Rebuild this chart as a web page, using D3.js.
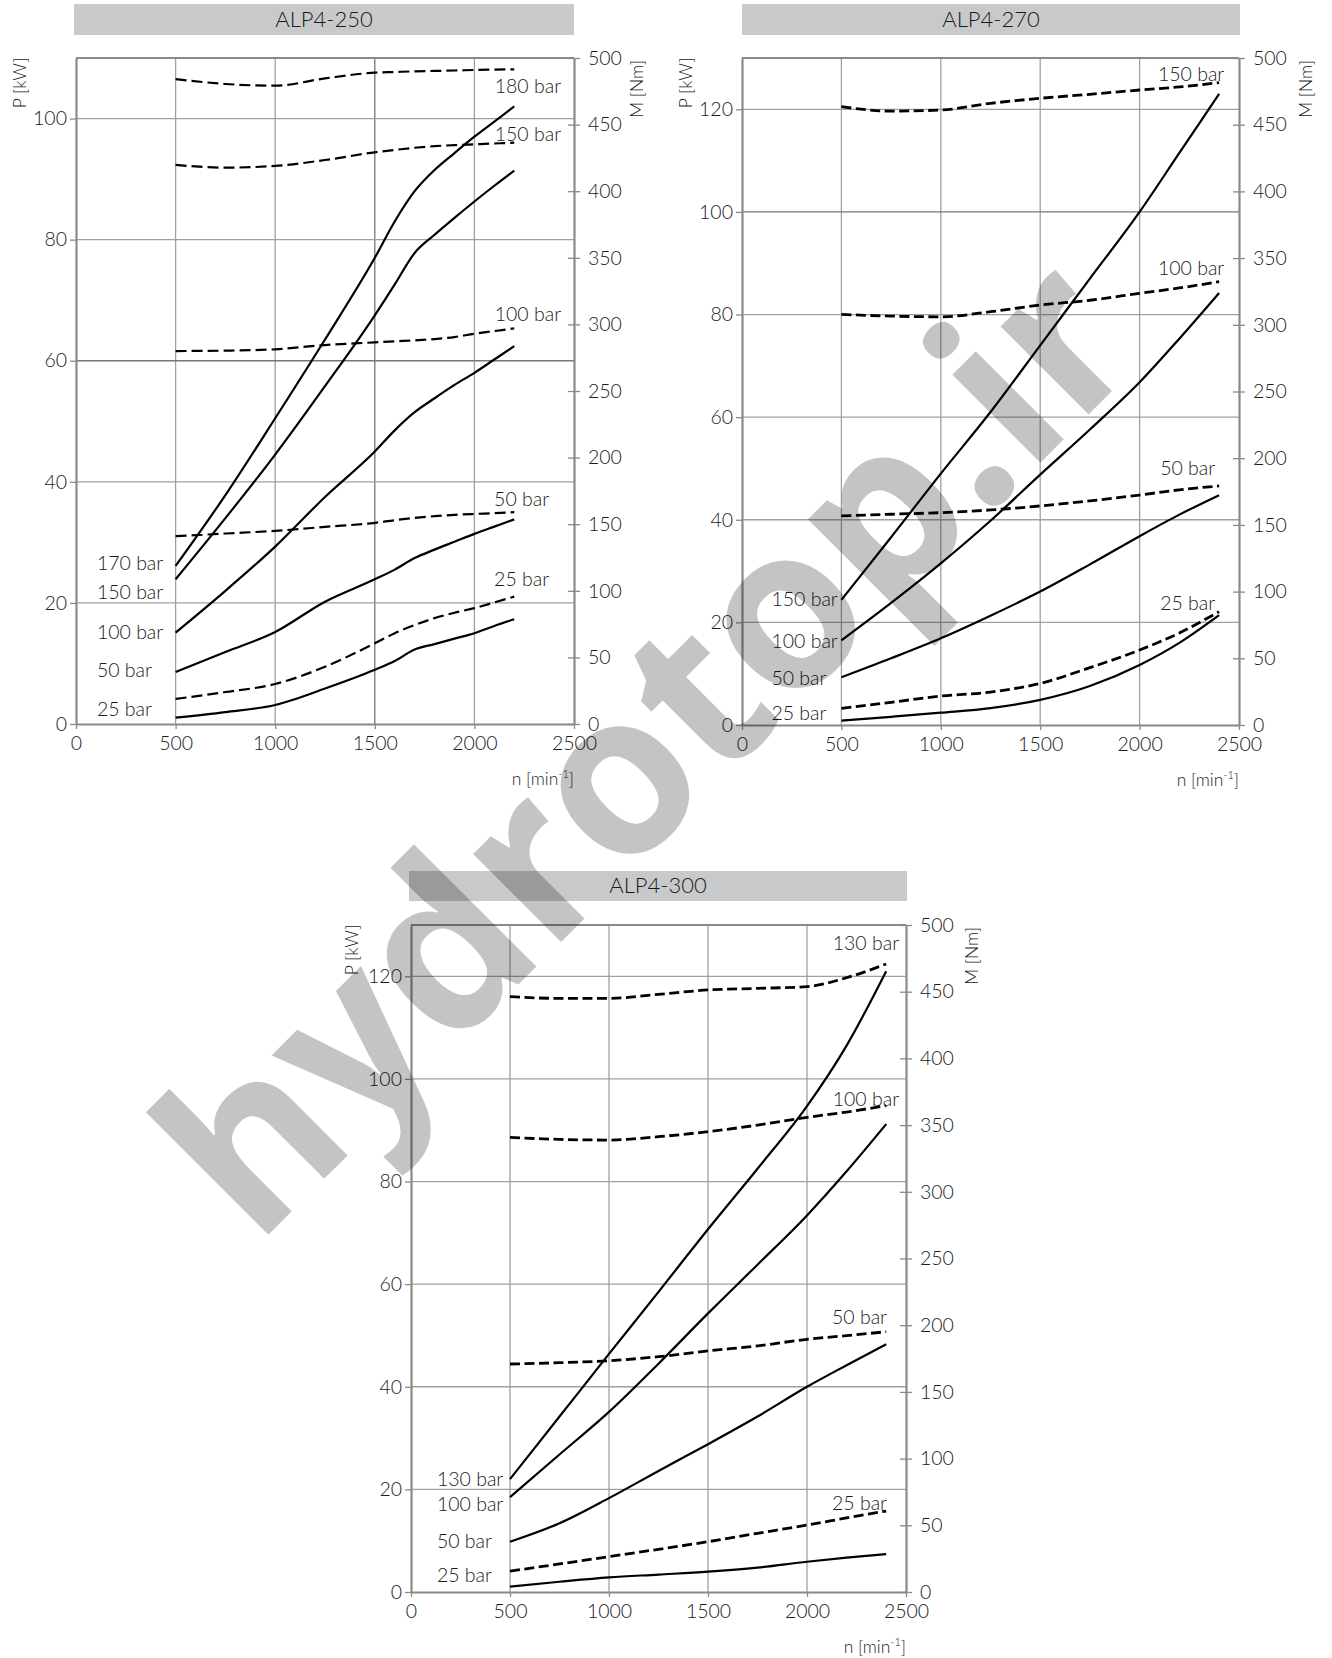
<!DOCTYPE html>
<html><head><meta charset="utf-8">
<script src="https://cdn.jsdelivr.net/npm/d3@7"></script>
<style>
body{margin:0;background:#fff}
text{font-family:Lato,"Open Sans",sans-serif;font-weight:300;fill:#1a1a1a}
</style>
</head><body>
<svg id="c" width="1332" height="1658"></svg>
<script>
// ---------------- DATA ----------------
const xTickLabels = [0, 500, 1000, 1500, 2000, 2500];
const mTickLabels = [0, 50, 100, 150, 200, 250, 300, 350, 400, 450, 500];
const pTicks250 = [0, 20, 40, 60, 80, 100];
const pTicks270 = [0, 20, 40, 60, 80, 100, 120];
const pTicks300 = [0, 20, 40, 60, 80, 100, 120];

// ALP4-250
const n250 = [500, 750, 1000, 1250, 1500, 1600, 1700, 1800, 1900, 2000, 2100, 2200];
const P250_180 = [26.1, 37.8, 50.5, 63.5, 77, 83, 88, 91.5, 94.3, 97, 99.5, 102];
const P250_150 = [23.9, 34, 44.5, 55.8, 67.5, 72.6, 77.8, 80.8, 83.6, 86.3, 88.9, 91.4];
const P250_100 = [15.1, 22, 29.3, 37.5, 45, 48.5, 51.5, 53.8, 56, 58, 60.2, 62.4];
const P250_50 = [8.6, 11.9, 15.2, 20.2, 23.9, 25.5, 27.4, 28.8, 30.1, 31.4, 32.6, 33.8];
const P250_25 = [1.04, 1.95, 3.14, 5.85, 8.95, 10.4, 12.3, 13.2, 14.1, 15.0, 16.2, 17.3];
const M250_180 = [484.2, 480.5, 479.2, 484.7, 489, 489.5, 490, 490.3, 490.6, 491, 491.3, 491.5];
const M250_150 = [419.7, 417.7, 419, 423.4, 429.2, 431, 432.6, 433.8, 434.6, 435.2, 435.8, 436.4];
const M250_100 = [280, 280.3, 281.3, 284.5, 286.5, 287.3, 288, 289, 290.5, 293, 295, 297];
const M250_50 = [141, 143, 145, 148, 151, 153, 154.7, 156, 157, 157.7, 158.3, 159];
const M250_25 = [18.8, 24, 30, 43, 60.6, 68.2, 74.3, 79.5, 83.5, 87, 91.3, 95.6];

// ALP4-270
const n270 = [500, 750, 1000, 1250, 1500, 1750, 2000, 2200, 2400];
const P270_150 = [24.4, 36.6, 49, 61, 74, 87, 100, 111.5, 123];
const P270_100 = [16.5, 23.8, 31.5, 39.8, 48.8, 57.6, 66.8, 75.3, 84.2];
const P270_50 = [9.3, 13, 16.9, 21.3, 26, 31.3, 36.8, 41, 44.8];
const P270_25 = [0.85, 1.6, 2.4, 3.3, 4.9, 7.6, 11.7, 16, 21.4];
const M270_150 = [463.5, 460.2, 461, 466, 469.8, 472.8, 476, 478.3, 481.5];
const M270_100 = [307.8, 306.5, 306, 309.8, 314.8, 318.4, 323.6, 327.6, 332.3];
const M270_50 = [156.7, 158, 159.2, 161.2, 164.2, 168, 172.4, 176.3, 179.2];
const M270_25 = [12.5, 17, 21.7, 24.7, 31.2, 43, 56.2, 69, 85];

// ALP4-300
const n300 = [500, 750, 1000, 1250, 1500, 1750, 2000, 2200, 2400];
const P300_130 = [22, 34.2, 46.4, 58.5, 70.7, 82.5, 94.7, 106.5, 121];
const P300_100 = [18.5, 26.8, 35.1, 44.5, 54.3, 63.8, 73.4, 82, 91.2];
const P300_50 = [9.8, 13.4, 18.3, 23.6, 28.8, 34.2, 40, 44.2, 48.3];
const P300_25 = [1.04, 2, 2.86, 3.4, 3.96, 4.75, 5.9, 6.7, 7.4];
const M300_130 = [446.3, 445, 445, 448, 451.3, 452.5, 453.8, 460.5, 470.8];
const M300_100 = [340.8, 339.3, 338.8, 341.3, 345.1, 350, 355.8, 359.8, 364.6];
const M300_50 = [170.9, 171.9, 173.4, 176.4, 180.7, 184.5, 189.4, 192.2, 195.1];
const M300_25 = [15.7, 21, 26.5, 32, 37.7, 44, 50.2, 55.5, 60.7];

// curve labels: [text, n, P]
const rightLabels250 = [["180 bar", 2435, 104.2], ["150 bar", 2435, 96.3], ["100 bar", 2435, 66.5], ["50 bar", 2375, 36.0], ["25 bar", 2375, 22.8]];
const leftLabels250 = [["170 bar", 105, 25.4], ["150 bar", 105, 20.6], ["100 bar", 105, 14.0], ["50 bar", 105, 7.8], ["25 bar", 105, 1.3]];
const rightLabels270 = [["150 bar", 2426, 125.5], ["100 bar", 2426, 87.7], ["50 bar", 2380, 48.8], ["25 bar", 2380, 22.5]];
const leftLabels270 = [["150 bar", 148, 23.2], ["100 bar", 148, 15.0], ["50 bar", 148, 7.85], ["25 bar", 148, 1.03]];
const rightLabels300 = [["130 bar", 2465, 125.2], ["100 bar", 2465, 94.7], ["50 bar", 2404, 52.2], ["25 bar", 2404, 16.0]];
const leftLabels300 = [["130 bar", 131, 20.7], ["100 bar", 131, 15.8], ["50 bar", 131, 8.6], ["25 bar", 131, 1.95]];

const titles = ["ALP4-250", "ALP4-270", "ALP4-300"];
const watermark = "hydrotop.ir";

// ---------------- DRAW ----------------
const svg = d3.select("#c");
const GRID = "#a0a0a0", GRID_STRONG = "#767676", AXIS = "#8a8a8a";
const FONT = "Lato, 'Open Sans', sans-serif";

function drawChart(L, D) {
  const g = svg.append("g");
  const x = d3.scaleLinear().domain([0, 2500]).range([L.x0, L.x1]);
  const yP = d3.scaleLinear().domain([0, D.pMax]).range([L.yB, L.yT]);
  const yM = d3.scaleLinear().domain([0, 500]).range([L.yB, L.yT]);

  // title bar
  g.append("rect").attr("x", L.tx0).attr("y", L.ty0).attr("width", L.tx1 - L.tx0)
    .attr("height", L.ty1 - L.ty0).attr("fill", "#c8c9cb");
  g.append("text").attr("x", (L.tx0 + L.tx1) / 2).attr("y", L.ty1 - 8)
    .attr("text-anchor", "middle").attr("font-size", 22).text(D.title);

  // grid
  g.selectAll(".vg").data(xTickLabels.filter(v => v > 0 && v < 2500)).enter().append("line")
    .attr("x1", d => x(d)).attr("x2", d => x(d)).attr("y1", L.yB).attr("y2", L.yT)
    .attr("stroke", d => L.strongX.includes(d) ? GRID_STRONG : GRID).attr("stroke-width", 1.3);
  g.selectAll(".hg").data(D.pTicks.filter(v => v > 0)).enter().append("line")
    .attr("x1", L.x0).attr("x2", L.x1).attr("y1", d => yP(d)).attr("y2", d => yP(d))
    .attr("stroke", d => L.strongY.includes(d) ? GRID_STRONG : GRID).attr("stroke-width", 1.3);

  // top border
  g.append("line").attr("x1", L.x0).attr("x2", L.x1).attr("y1", L.yT).attr("y2", L.yT)
    .attr("stroke", AXIS).attr("stroke-width", 2);

  // axes
  const styleAxis = sel => {
    sel.select(".domain").attr("stroke", AXIS).attr("stroke-width", 2.2);
    sel.selectAll(".tick line").attr("stroke", AXIS).attr("stroke-width", 1.3);
    sel.selectAll(".tick text").attr("font-size", 19.5).attr("fill", "#1a1a1a")
      .style("font-family", FONT).style("font-weight", 300);
  };
  g.append("g").attr("transform", `translate(${L.x0},0)`)
    .call(d3.axisLeft(yP).tickValues(D.pTicks).tickSize(6).tickSizeOuter(0).tickPadding(3).tickFormat(d3.format("d")))
    .call(styleAxis);
  const ra = g.append("g").attr("transform", `translate(${L.x1},0)`)
    .call(d3.axisRight(yM).tickValues(mTickLabels).tickSize(6).tickSizeOuter(0).tickPadding(8).tickFormat(d3.format("d")))
    .call(styleAxis);
  ra.selectAll(".tick line").attr("x1", -6);
  g.append("g").attr("transform", `translate(0,${L.yB})`)
    .call(d3.axisBottom(x).tickValues(xTickLabels).tickSize(5).tickSizeOuter(0).tickPadding(7).tickFormat(d3.format("d")))
    .call(styleAxis);

  // axis titles
  g.append("text").attr("transform", `translate(${L.x0 - L.pTitleDx},${L.yT + 25}) rotate(-90)`)
    .attr("text-anchor", "middle").attr("dy", "0.35em").attr("font-size", 17.5).text("P [kW]");
  g.append("text").attr("transform", `translate(${L.x1 + L.mTitleDx},${L.yT + 31}) rotate(-90)`)
    .attr("text-anchor", "middle").attr("dy", "0.35em").attr("font-size", 17.5).text("M [Nm]");
  const nt = g.append("text").attr("x", L.x1).attr("y", L.yB + 61).attr("text-anchor", "end").attr("font-size", 17.5);
  nt.append("tspan").text("n [min");
  nt.append("tspan").attr("font-size", 11).attr("dy", -7).text("-1");
  nt.append("tspan").attr("dy", 7).text("]");

  // curves
  const lineP = d3.line().x(d => x(d[0])).y(d => yP(d[1])).curve(d3.curveMonotoneX);
  const lineM = d3.line().x(d => x(d[0])).y(d => yM(d[1])).curve(d3.curveMonotoneX);
  D.power.forEach(arr => {
    g.append("path").datum(D.n.map((v, i) => [v, arr[i]])).attr("d", lineP)
      .attr("fill", "none").attr("stroke", "#000").attr("stroke-width", 2.2);
  });
  D.torque.forEach(arr => {
    g.append("path").datum(D.n.map((v, i) => [v, arr[i]])).attr("d", lineM)
      .attr("fill", "none").attr("stroke", "#000").attr("stroke-width", L.dashW)
      .attr("stroke-dasharray", L.dash);
  });

  // curve labels
  g.selectAll(".rl").data(D.right).enter().append("text")
    .attr("x", d => x(d[1])).attr("y", d => yP(d[2])).attr("text-anchor", "end")
    .attr("font-size", 19.5).text(d => d[0]);
  g.selectAll(".ll").data(D.left).enter().append("text")
    .attr("x", d => x(d[1])).attr("y", d => yP(d[2])).attr("text-anchor", "start")
    .attr("font-size", 19.5).text(d => d[0]);
}

drawChart(
  {x0: 76, x1: 574, yT: 58, yB: 724, tx0: 74, tx1: 574, ty0: 4, ty1: 35, pTitleDx: 56, mTitleDx: 63,
   dash: "11,5", dashW: 2.2, strongX: [1500], strongY: [60]},
  {title: titles[0], pMax: 110, pTicks: pTicks250, n: n250,
   power: [P250_180, P250_150, P250_100, P250_50, P250_25],
   torque: [M250_180, M250_150, M250_100, M250_50, M250_25],
   right: rightLabels250, left: leftLabels250});
drawChart(
  {x0: 742, x1: 1239, yT: 58, yB: 725, tx0: 742, tx1: 1240, ty0: 4, ty1: 35, pTitleDx: 56, mTitleDx: 67,
   dash: "10,4.5", dashW: 2.8, strongX: [], strongY: [100]},
  {title: titles[1], pMax: 130, pTicks: pTicks270, n: n270,
   power: [P270_150, P270_100, P270_50, P270_25],
   torque: [M270_150, M270_100, M270_50, M270_25],
   right: rightLabels270, left: leftLabels270});
drawChart(
  {x0: 411, x1: 906, yT: 925, yB: 1592, tx0: 409, tx1: 907, ty0: 871, ty1: 901, pTitleDx: 59, mTitleDx: 66,
   dash: "10,4.5", dashW: 2.8, strongX: [], strongY: []},
  {title: titles[2], pMax: 130, pTicks: pTicks300, n: n300,
   power: [P300_130, P300_100, P300_50, P300_25],
   torque: [M300_130, M300_100, M300_50, M300_25],
   right: rightLabels300, left: leftLabels300});

// watermark overlay
svg.append("text")
  .attr("transform", "translate(256,1247) rotate(-45)")
  .attr("textLength", 1261).attr("lengthAdjust", "spacingAndGlyphs")
  .style("font-family", "'Open Sans', sans-serif").style("font-weight", 700)
  .attr("font-size", 228).style("fill", "#000").style("fill-opacity", 0.23)
  .text(watermark);
</script>
</body></html>
